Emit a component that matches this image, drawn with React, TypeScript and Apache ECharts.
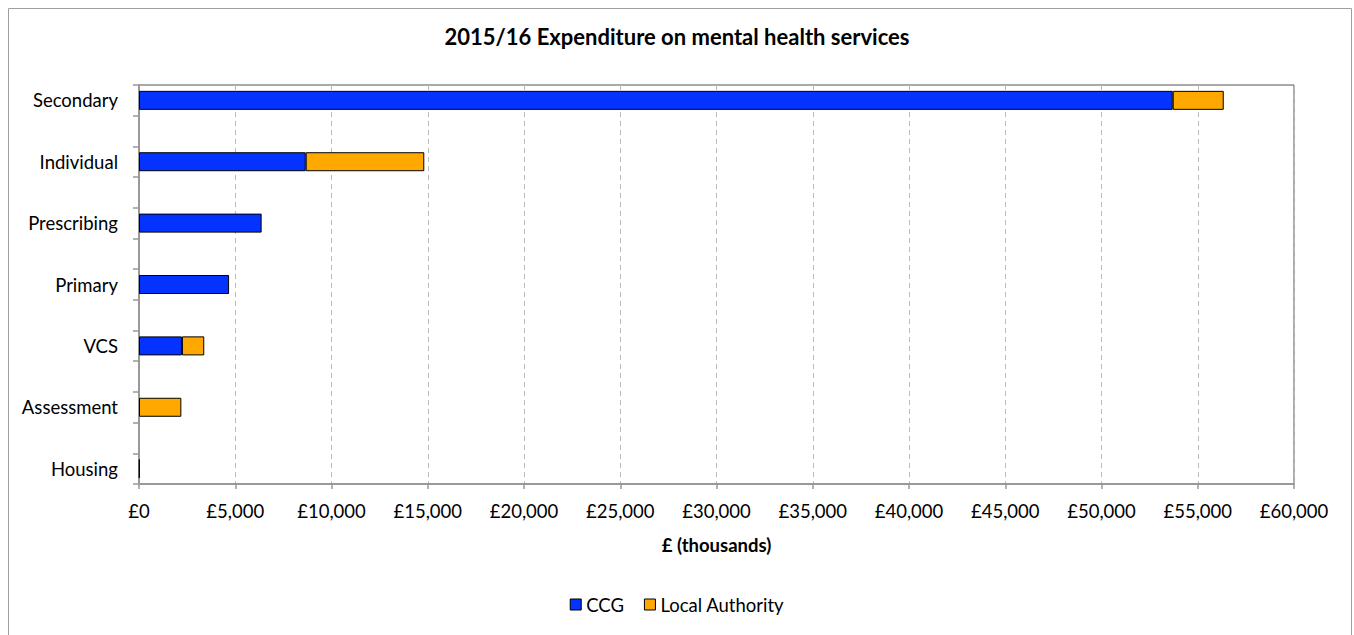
import React, { useEffect, useRef } from "react";
import * as echarts from "echarts";

const categories = ["Secondary", "Individual", "Prescribing", "Primary", "VCS", "Assessment", "Housing"];
const ccgValues = [53700, 8660, 6370, 4680, 2230, 0, 30];
const laValues = [2650, 6160, 0, 0, 1160, 2200, 0];
const xTicks = [0, 5000, 10000, 15000, 20000, 25000, 30000, 35000, 40000, 45000, 50000, 55000, 60000];

const FONT = "Lato, 'Open Sans', sans-serif";
const FS = 18.5;

// interleave empty slots between categories (the original chart has gaps)
function spread<T>(arr: T[], blank: T): T[] {
  const out: T[] = [];
  arr.forEach((v, i) => {
    out.push(v);
    if (i < arr.length - 1) out.push(blank);
  });
  return out;
}

export default function App() {
  const ref = useRef<HTMLDivElement>(null);
  useEffect(() => {
    if (!ref.current) return;
    const chart = echarts.init(ref.current, null, { renderer: "svg" });
    const cats = spread(categories, "");
    const ccg = spread<number | null>(ccgValues.map((v) => (v ? v : null)), null);
    const la = spread<number | null>(laValues.map((v) => (v ? v : null)), null);
    const fmt = (v: number) => "£" + v.toLocaleString("en-GB");
    chart.setOption({
      animation: false,
      textStyle: { fontFamily: FONT },
      graphic: [
        {
          type: "rect",
          shape: { x: 8.5, y: 8.5, width: 1343, height: 640 },
          style: { fill: "none", stroke: "#a0a0a0", lineWidth: 1 },
          silent: true,
        },
      ],
      title: {
        text: "2015/16 Expenditure on mental health services",
        left: "center",
        top: 20,
        textStyle: { fontFamily: FONT, fontSize: 22, fontWeight: "bold", color: "#000" },
      },
      legend: {
        top: 590,
        left: "center",
        itemWidth: 11,
        itemHeight: 11,
        itemGap: 20,
        icon: "rect",
        textStyle: { fontFamily: FONT, fontSize: FS, color: "#000" },
        data: [
          { name: "CCG", itemStyle: { color: "#0433FF", borderColor: "#000", borderWidth: 1 } },
          { name: "Local Authority", itemStyle: { color: "#FFA800", borderColor: "#000", borderWidth: 1 } },
        ],
      },
      grid: {
        left: 139,
        right: 60,
        top: 85,
        bottom: 151,
        show: true,
        borderColor: "#555",
        borderWidth: 1,
      },
      xAxis: {
        type: "value",
        min: 0,
        max: 60000,
        interval: 5000,
        name: "£ (thousands)",
        nameLocation: "middle",
        nameGap: 51,
        nameTextStyle: { fontFamily: FONT, fontSize: FS, fontWeight: "bold", color: "#000" },
        axisLine: { show: true, lineStyle: { color: "#999", width: 2 } },
        axisTick: { show: true, length: 5, lineStyle: { color: "#999", width: 1.5 } },
        axisLabel: {
          fontFamily: FONT,
          fontSize: FS,
          color: "#000",
          margin: 17,
          formatter: (v: number) => (xTicks.includes(v) ? fmt(v) : ""),
        },
        splitLine: { show: true, lineStyle: { color: "#bbb", type: [5, 4], width: 1 } },
      },
      yAxis: {
        type: "category",
        inverse: true,
        data: cats,
        axisLine: { show: true, lineStyle: { color: "#999", width: 2 } },
        axisTick: { show: true, length: 6, interval: 0, lineStyle: { color: "#999", width: 1.5 } },
        axisLabel: { fontFamily: FONT, fontSize: FS, color: "#000", margin: 21, interval: 0 },
        splitLine: { show: false },
      },
      series: [
        {
          name: "CCG",
          type: "bar",
          stack: "total",
          data: ccg,
          barWidth: 19,
          itemStyle: { color: "#0433FF", borderColor: "#000", borderWidth: 1 },
        },
        {
          name: "Local Authority",
          type: "bar",
          stack: "total",
          data: la,
          barWidth: 19,
          itemStyle: { color: "#FFA800", borderColor: "#000", borderWidth: 1 },
        },
      ],
    });
    return () => chart.dispose();
  }, []);
  return (
    <div
      ref={ref}
      style={{ position: "absolute", left: 0, top: 0, width: 1354, height: 635 }}
    />
  );
}
